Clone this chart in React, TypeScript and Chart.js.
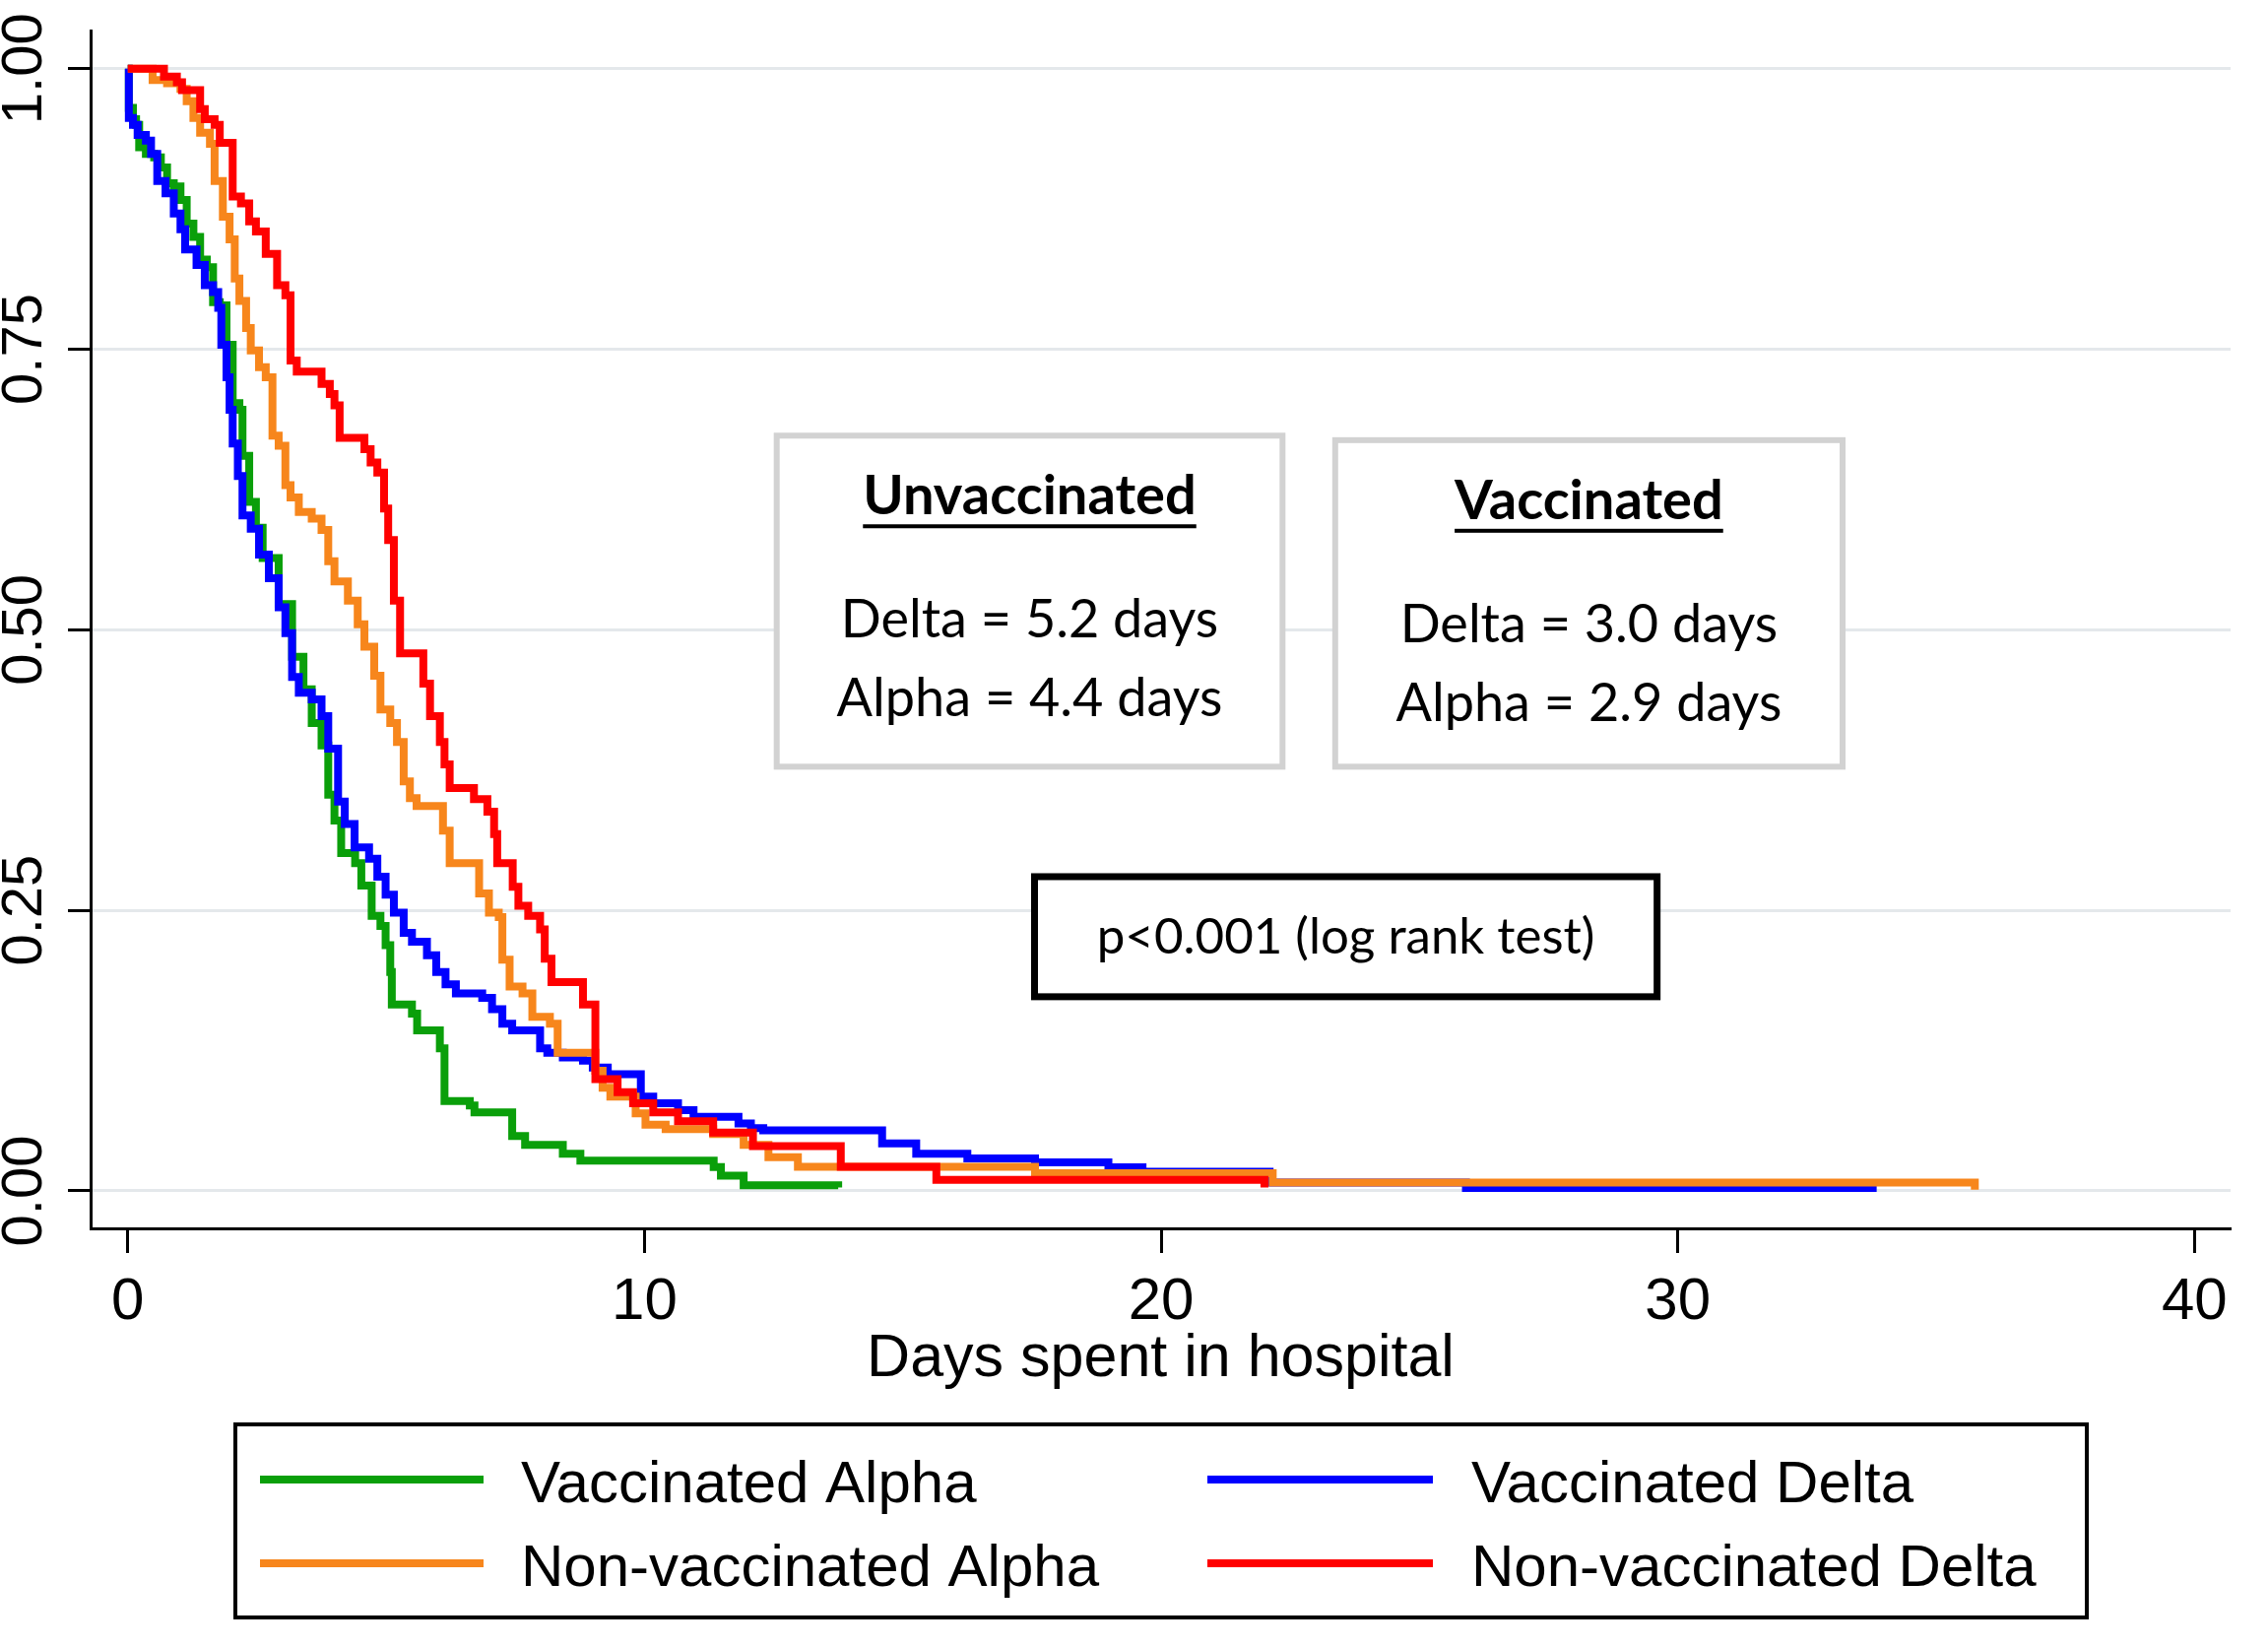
import React, { useEffect, useRef } from 'react';
import { Chart, registerables } from 'chart.js';

Chart.register(...registerables);

// ---------- data ----------
const xTickValues = [0, 10, 20, 30, 40];
const yTickValues = [0, 0.25, 0.5, 0.75, 1];

const vaccAlphaT = [0, 0.02, 0.10, 0.16, 0.22, 0.35, 0.51, 0.64, 0.76, 0.89, 1.02, 1.14, 1.27, 1.40, 1.53, 1.65, 1.78, 1.91, 2.03, 2.16, 2.22, 2.35, 2.48, 2.61, 2.92, 3.18, 3.40, 3.56, 3.75, 3.88, 4.00, 4.13, 4.40, 4.52, 4.72, 4.89, 4.99, 5.08, 5.11, 5.50, 5.60, 6.04, 6.13, 6.62, 6.71, 7.44, 7.69, 8.42, 8.76, 11.34, 11.48, 11.92, 13.75];
const vaccAlphaS = [1, 0.965, 0.955, 0.950, 0.930, 0.924, 0.921, 0.912, 0.898, 0.895, 0.883, 0.862, 0.850, 0.830, 0.823, 0.792, 0.789, 0.754, 0.702, 0.696, 0.655, 0.614, 0.591, 0.564, 0.523, 0.476, 0.447, 0.417, 0.397, 0.353, 0.330, 0.301, 0.292, 0.272, 0.245, 0.236, 0.219, 0.195, 0.166, 0.158, 0.143, 0.127, 0.080, 0.076, 0.070, 0.049, 0.041, 0.033, 0.027, 0.0213, 0.0135, 0.005, 0.003];

const vaccDeltaT = [0, 0.02, 0.10, 0.19, 0.35, 0.45, 0.57, 0.73, 0.89, 1.02, 1.11, 1.33, 1.49, 1.65, 1.75, 1.81, 1.91, 1.97, 2.03, 2.13, 2.22, 2.38, 2.54, 2.73, 2.92, 3.05, 3.18, 3.31, 3.56, 3.75, 3.88, 4.07, 4.20, 4.39, 4.67, 4.83, 4.99, 5.15, 5.34, 5.50, 5.79, 5.97, 6.15, 6.35, 6.86, 7.05, 7.25, 7.44, 7.98, 8.12, 8.42, 8.81, 9.00, 9.29, 9.93, 10.17, 10.65, 10.95, 11.82, 12.06, 12.30, 14.60, 15.26, 16.25, 17.56, 18.98, 19.64, 22.10, 25.90, 33.85];
const vaccDeltaS = [1, 0.956, 0.950, 0.941, 0.936, 0.924, 0.900, 0.889, 0.871, 0.857, 0.839, 0.825, 0.807, 0.801, 0.787, 0.754, 0.725, 0.696, 0.666, 0.637, 0.602, 0.590, 0.567, 0.546, 0.520, 0.497, 0.458, 0.444, 0.438, 0.423, 0.394, 0.347, 0.327, 0.306, 0.296, 0.280, 0.264, 0.248, 0.230, 0.222, 0.210, 0.195, 0.184, 0.176, 0.172, 0.162, 0.149, 0.143, 0.127, 0.123, 0.119, 0.116, 0.110, 0.104, 0.084, 0.078, 0.072, 0.066, 0.060, 0.056, 0.054, 0.0424, 0.033, 0.029, 0.0255, 0.021, 0.017, 0.0075, 0.0025, 0.0025];

const nonVaccAlphaT = [0, 0.48, 0.76, 1.02, 1.14, 1.27, 1.40, 1.59, 1.68, 1.84, 1.97, 2.07, 2.16, 2.29, 2.38, 2.54, 2.67, 2.80, 2.92, 3.05, 3.15, 3.31, 3.56, 3.75, 3.88, 4.00, 4.26, 4.45, 4.58, 4.77, 4.89, 5.08, 5.21, 5.34, 5.46, 5.59, 6.10, 6.23, 6.80, 6.99, 7.18, 7.25, 7.39, 7.64, 7.83, 8.17, 8.32, 9.05, 9.19, 9.34, 9.83, 10.02, 10.41, 11.33, 11.92, 12.40, 12.97, 17.56, 22.16, 35.75];
const nonVaccAlphaS = [1, 0.990, 0.987, 0.982, 0.971, 0.956, 0.943, 0.933, 0.900, 0.868, 0.848, 0.813, 0.793, 0.769, 0.749, 0.734, 0.725, 0.673, 0.664, 0.629, 0.618, 0.605, 0.599, 0.589, 0.561, 0.543, 0.526, 0.505, 0.485, 0.459, 0.429, 0.417, 0.400, 0.365, 0.350, 0.343, 0.321, 0.292, 0.265, 0.248, 0.244, 0.206, 0.182, 0.176, 0.155, 0.149, 0.123, 0.107, 0.092, 0.084, 0.069, 0.059, 0.055, 0.0506, 0.041, 0.030, 0.0215, 0.0158, 0.0075, 0.001];

const nonVaccDeltaT = [0, 0.70, 0.95, 1.05, 1.40, 1.49, 1.68, 1.78, 2.03, 2.19, 2.35, 2.48, 2.67, 2.89, 3.05, 3.15, 3.27, 3.75, 3.91, 4.00, 4.10, 4.58, 4.70, 4.83, 4.96, 5.04, 5.15, 5.27, 5.72, 5.85, 6.04, 6.13, 6.23, 6.70, 6.96, 7.09, 7.15, 7.45, 7.56, 7.75, 7.98, 8.07, 8.20, 8.81, 9.05, 9.48, 9.78, 10.17, 10.65, 11.33, 12.10, 13.80, 15.65, 22.00];
const nonVaccDeltaS = [1, 0.993, 0.988, 0.981, 0.964, 0.955, 0.950, 0.934, 0.886, 0.880, 0.864, 0.855, 0.835, 0.807, 0.798, 0.740, 0.730, 0.719, 0.710, 0.700, 0.671, 0.661, 0.649, 0.640, 0.608, 0.580, 0.526, 0.479, 0.452, 0.423, 0.400, 0.380, 0.359, 0.349, 0.338, 0.318, 0.292, 0.271, 0.254, 0.245, 0.233, 0.207, 0.186, 0.166, 0.0996, 0.088, 0.078, 0.070, 0.062, 0.052, 0.040, 0.0215, 0.0098, 0.003];

const seriesLabels = ['Vaccinated Alpha', 'Vaccinated Delta', 'Non-vaccinated Alpha', 'Non-vaccinated Delta'];
const seriesColors = ['#0a9f0a', '#0000ff', '#f7861c', '#ff0000'];

const xAxisTitle = 'Days spent in hospital';
const unvaccText = ['Unvaccinated', 'Delta = 5.2 days', 'Alpha = 4.4 days'];
const vaccText = ['Vaccinated', 'Delta = 3.0 days', 'Alpha = 2.9 days'];
const pValueText = 'p<0.001 (log rank test)';

// ---------- fonts ----------
const AXIS_FONT = "'Liberation Sans', Arial, sans-serif";
const NOTE_FONT = "Lato, 'Open Sans', sans-serif";

const toPoints = (t: number[], s: number[]) => t.map((v, i) => ({ x: v, y: s[i] }));

const annotationPlugin = {
  id: 'kmAnnotations',
  beforeDatasetsDraw(chart: any) {
    const { ctx } = chart;
    const xs = chart.scales.x;
    const ys = chart.scales.y;
    const box = (x0: number, x1: number, y0: number, y1: number, stroke: string, lw: number) => {
      const l = xs.getPixelForValue(x0);
      const r = xs.getPixelForValue(x1);
      const t = ys.getPixelForValue(y1);
      const b = ys.getPixelForValue(y0);
      ctx.save();
      ctx.fillStyle = '#ffffff';
      ctx.fillRect(l, t, r - l, b - t);
      ctx.strokeStyle = stroke;
      ctx.lineWidth = lw;
      ctx.strokeRect(l, t, r - l, b - t);
      ctx.restore();
      return { l, r, t, b, cx: (l + r) / 2 };
    };
    const statBox = (bx: any, lines: string[]) => {
      ctx.save();
      ctx.fillStyle = '#000';
      ctx.textAlign = 'center';
      ctx.textBaseline = 'alphabetic';
      ctx.font = `bold 56px ${NOTE_FONT}`;
      ctx.fillText(lines[0], bx.cx, bx.t + 80);
      const w = ctx.measureText(lines[0]).width;
      ctx.fillRect(bx.cx - w / 2, bx.t + 90, w, 4);
      ctx.font = `54px ${NOTE_FONT}`;
      ctx.fillText(lines[1], bx.cx, bx.t + 205);
      ctx.fillText(lines[2], bx.cx, bx.t + 285);
      ctx.restore();
    };
    const b1 = box(12.56, 22.35, 0.378, 0.673, '#d2d2d2', 6);
    statBox(b1, unvaccText);
    const b2 = box(23.37, 33.19, 0.378, 0.669, '#d2d2d2', 6);
    statBox(b2, vaccText);
    const b3 = box(17.55, 29.6, 0.173, 0.28, '#000000', 7);
    ctx.save();
    ctx.fillStyle = '#000';
    ctx.textAlign = 'center';
    ctx.textBaseline = 'alphabetic';
    ctx.font = `51px ${NOTE_FONT}`;
    ctx.fillText(pValueText, b3.cx, b3.t + 78);
    ctx.restore();
  },
};

const legendPlugin = {
  id: 'kmLegend',
  afterDraw(chart: any) {
    const { ctx } = chart;
    const left = 239, top = 1446, width = 1880, height = 196;
    ctx.save();
    ctx.strokeStyle = '#000';
    ctx.lineWidth = 4;
    ctx.strokeRect(left, top, width, height);
    const cols = [{ lx0: 264, lx1: 491, tx: 529 }, { lx0: 1226, lx1: 1455, tx: 1494 }];
    const rows = [{ ly: 1502, ty: 1525 }, { ly: 1587, ty: 1610 }];
    ctx.font = `60px ${AXIS_FONT}`;
    ctx.fillStyle = '#000';
    ctx.textAlign = 'left';
    ctx.textBaseline = 'alphabetic';
    seriesLabels.forEach((lab, i) => {
      const c = cols[i % 2];
      const r = rows[Math.floor(i / 2)];
      ctx.strokeStyle = seriesColors[i];
      ctx.lineWidth = 8;
      ctx.beginPath();
      ctx.moveTo(c.lx0, r.ly);
      ctx.lineTo(c.lx1, r.ly);
      ctx.stroke();
      ctx.fillText(lab, c.tx, r.ty);
    });
    ctx.restore();
  },
};

const whiteBg = {
  id: 'whiteBg',
  beforeDraw(chart: any) {
    const { ctx, width, height } = chart;
    ctx.save();
    ctx.fillStyle = '#ffffff';
    ctx.fillRect(0, 0, width, height);
    ctx.restore();
  },
};

export default function App() {
  const ref = useRef<HTMLCanvasElement | null>(null);

  useEffect(() => {
    if (!ref.current) return;
    const series = [
      { t: vaccAlphaT, s: vaccAlphaS, order: 3 },
      { t: vaccDeltaT, s: vaccDeltaS, order: 2 },
      { t: nonVaccAlphaT, s: nonVaccAlphaS, order: 1 },
      { t: nonVaccDeltaT, s: nonVaccDeltaS, order: 0 },
    ];
    const chart = new Chart(ref.current, {
      type: 'line',
      data: {
        datasets: series.map((d, i) => ({
          label: seriesLabels[i],
          data: toPoints(d.t, d.s),
          borderColor: seriesColors[i],
          backgroundColor: seriesColors[i],
          borderWidth: 8,
          pointRadius: 0,
          stepped: 'before' as const,
          fill: false,
          order: d.order,
        })),
      },
      options: {
        animation: false,
        responsive: false,
        devicePixelRatio: 1,
        layout: { padding: { top: 31, right: 38, left: 0, bottom: 0 } },
        plugins: {
          legend: { display: false },
          tooltip: { enabled: false },
        },
        scales: {
          x: {
            type: 'linear',
            min: -0.72,
            max: 40.7,
            afterBuildTicks: (scale: any) => {
              scale.ticks = xTickValues.map((v) => ({ value: v }));
            },
            afterFit: (scale: any) => {
              scale.height = 426;
            },
            grid: {
              drawOnChartArea: false,
              drawTicks: true,
              tickLength: 25,
              tickWidth: 3,
              tickColor: '#000',
            },
            border: { display: true, color: '#000', width: 3 },
            ticks: {
              autoSkip: false,
              maxRotation: 0,
              minRotation: 0,
              padding: 14,
              color: '#000',
              font: { family: AXIS_FONT, size: 60 },
              callback: (v: any) => String(v),
            },
            title: {
              display: true,
              text: xAxisTitle,
              color: '#000',
              font: { family: AXIS_FONT, size: 61 },
              padding: { top: 0, bottom: 256 },
            },
          },
          y: {
            type: 'linear',
            min: -0.0334,
            max: 1.034,
            afterBuildTicks: (scale: any) => {
              scale.ticks = yTickValues.map((v) => ({ value: v }));
            },
            afterFit: (scale: any) => {
              scale.width = 92;
            },
            grid: {
              color: '#e4e8eb',
              lineWidth: 3,
              drawTicks: true,
              tickLength: 23,
              tickWidth: 3,
              tickColor: '#000',
            },
            border: { display: true, color: '#000', width: 3 },
            ticks: {
              autoSkip: false,
              minRotation: 90,
              maxRotation: 90,
              crossAlign: 'center',
              padding: -13,
              color: '#000',
              font: { family: AXIS_FONT, size: 58 },
              callback: (v: any) => Number(v).toFixed(2),
            },
          },
        },
      },
      plugins: [whiteBg, annotationPlugin, legendPlugin],
    } as any);
    return () => chart.destroy();
  }, []);

  return (
    <div style={{ position: 'absolute', left: 0, top: 0, width: 2303, height: 1673, background: '#fff' }}>
      <canvas ref={ref} width={2303} height={1673} style={{ display: 'block', width: 2303, height: 1673 }} />
    </div>
  );
}
